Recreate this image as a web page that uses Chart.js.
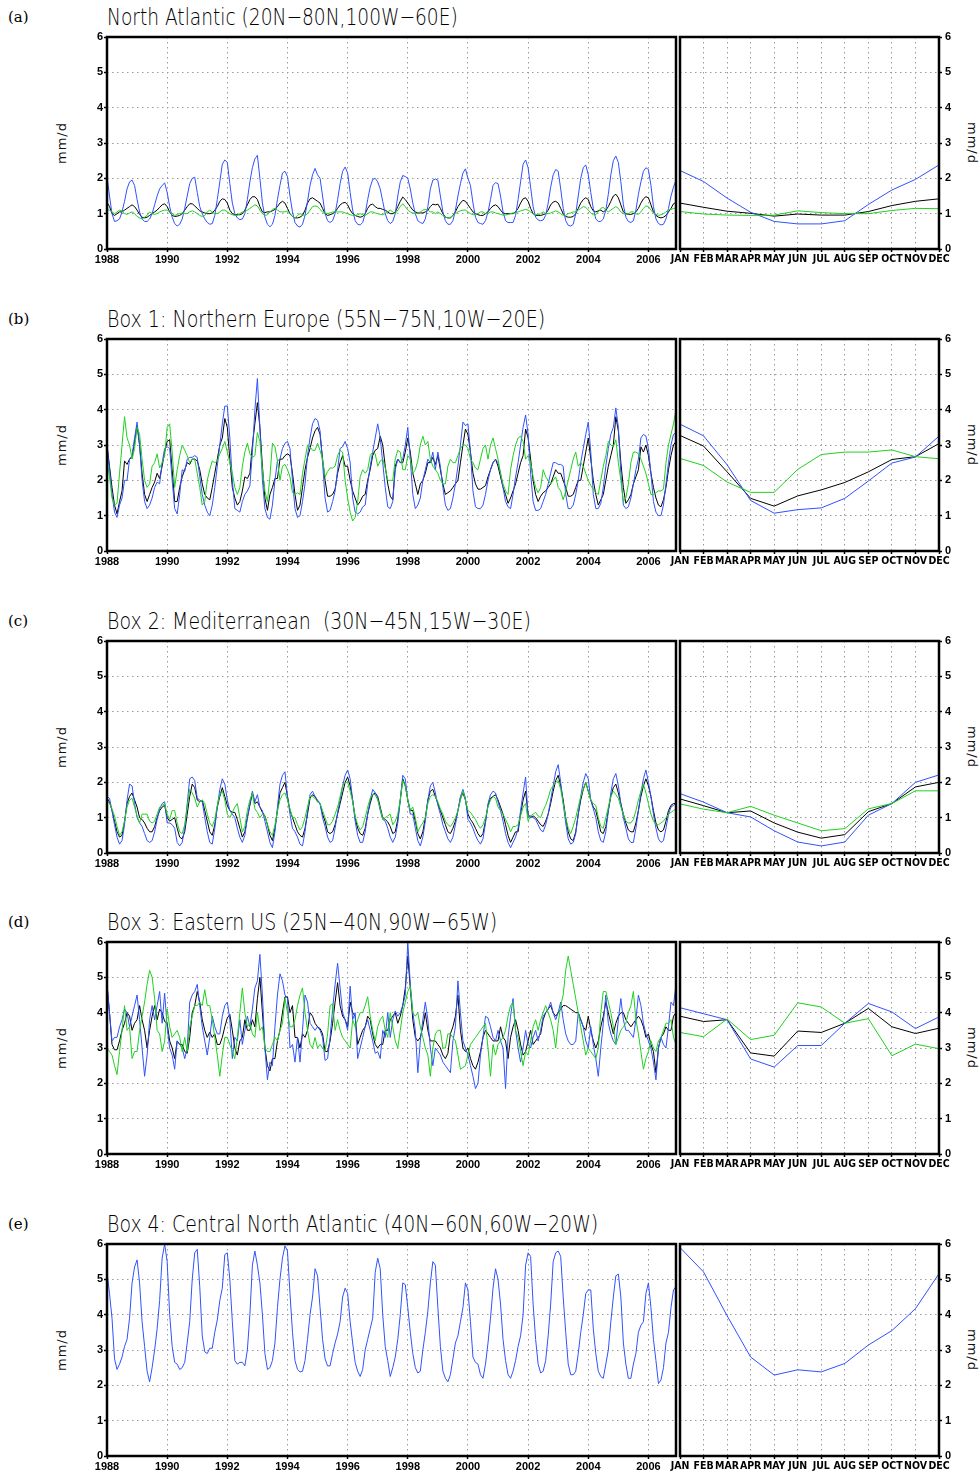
<!DOCTYPE html>
<html>
<head>
<meta charset="utf-8">
<title>Precipitation time series and climatology</title>
<script src="https://cdn.jsdelivr.net/npm/chart.js@4.4.1/dist/chart.umd.min.js"></script>
<style>
  html, body { margin: 0; padding: 0; background: #fff; }
  body { position: relative; width: 979px; height: 1475px; overflow: hidden; }
  canvas { position: absolute; }
  .title { position: absolute; left: 107px; font-family: 'DejaVu Sans', sans-serif; font-weight: 200;
           font-size: 23px; line-height: 26px; white-space: pre; transform-origin: 0 0; color: #000; }
  .tag { position: absolute; left: 8px; font-family: 'DejaVu Serif', serif; font-size: 15px; line-height: 18px; }
  .unit { position: absolute; font-family: 'DejaVu Sans', sans-serif; font-size: 13px; color: #111;
          line-height: 14px; white-space: nowrap; letter-spacing: 1px; }
</style>
</head>
<body>
<script>
// ---------- data (mm/d), monthly Jan 1988 .. Dec 2006 ----------
const START_YEAR = 1988;
const yearTicks = [1988, 1990, 1992, 1994, 1996, 1998, 2000, 2002, 2004, 2006];
const monthNames = ['JAN','FEB','MAR','APR','MAY','JUN','JUL','AUG','SEP','OCT','NOV','DEC'];
const yTicks = [0, 1, 2, 3, 4, 5, 6];

// (a) North Atlantic
const naBlack = [
  1.32,1.2,1.0,0.95,1.0,1.05,1.05,1.1,1.15,1.2,1.25,1.2,
  1.1,0.98,0.9,0.88,0.9,0.95,1.0,1.05,1.1,1.18,1.25,1.28,
  1.2,1.05,0.95,0.92,0.93,0.95,1.0,1.1,1.2,1.28,1.28,1.22,
  1.15,1.08,1.05,1.02,1.0,1.0,1.02,1.1,1.2,1.35,1.42,1.4,
  1.3,1.1,1.0,0.97,0.97,0.97,1.0,1.1,1.25,1.4,1.48,1.48,
  1.4,1.2,1.05,1.03,1.05,1.05,1.08,1.12,1.2,1.3,1.35,1.3,
  1.15,1.0,0.92,0.88,0.88,0.9,0.95,1.1,1.3,1.42,1.45,1.4,
  1.35,1.3,1.15,1.0,0.95,0.97,1.0,1.05,1.15,1.25,1.3,1.32,
  1.25,1.1,1.0,0.95,0.92,0.9,0.92,1.0,1.15,1.25,1.27,1.2,
  1.15,1.15,1.12,1.1,1.05,1.0,1.0,1.05,1.2,1.35,1.47,1.4,
  1.3,1.2,1.1,1.05,1.02,1.02,1.02,1.05,1.1,1.2,1.27,1.25,
  1.27,1.15,1.0,0.9,0.88,0.88,0.95,1.05,1.2,1.3,1.38,1.35,
  1.25,1.15,1.05,1.0,0.97,0.95,0.95,1.0,1.05,1.15,1.22,1.25,
  1.2,1.1,1.02,1.0,1.0,1.0,1.0,1.05,1.15,1.3,1.42,1.45,
  1.35,1.15,1.0,0.95,0.95,0.95,0.97,1.0,1.1,1.25,1.33,1.35,
  1.3,1.15,1.0,0.92,0.9,0.9,0.92,1.0,1.15,1.3,1.4,1.45,
  1.4,1.2,1.08,1.05,1.08,1.1,1.05,1.1,1.2,1.35,1.5,1.55,
  1.45,1.25,1.05,1.0,0.98,0.98,1.0,1.05,1.15,1.3,1.42,1.48,
  1.45,1.25,1.05,0.95,0.9,0.88,0.9,0.95,1.05,1.15,1.28,1.32
];
const naBlue = [
  2.05,1.5,1.0,0.78,0.8,0.85,1.05,1.35,1.7,1.9,1.95,1.8,
  1.4,1.05,0.85,0.78,0.78,0.85,1.0,1.25,1.5,1.7,1.8,1.87,
  1.6,1.2,0.9,0.72,0.65,0.7,0.85,1.15,1.5,1.85,2.0,2.03,
  1.6,1.2,1.0,0.85,0.75,0.7,0.72,0.95,1.4,1.9,2.4,2.52,
  2.45,1.85,1.3,1.0,0.88,0.83,0.85,1.0,1.4,1.9,2.3,2.55,
  2.65,2.0,1.3,0.9,0.7,0.63,0.7,0.95,1.4,1.8,2.15,2.2,
  2.05,1.5,1.05,0.75,0.65,0.62,0.7,0.95,1.35,1.8,2.1,2.28,
  2.1,2.0,1.5,1.0,0.8,0.75,0.8,1.0,1.4,1.85,2.2,2.32,
  2.15,1.6,1.1,0.8,0.7,0.68,0.75,1.0,1.4,1.75,1.97,2.0,
  1.9,1.7,1.35,1.0,0.8,0.72,0.78,1.0,1.5,1.9,2.08,2.05,
  2.0,1.7,1.3,1.0,0.8,0.75,0.72,0.85,1.2,1.7,1.95,1.98,
  1.95,1.5,1.05,0.8,0.7,0.7,0.8,1.1,1.5,1.85,2.15,2.27,
  2.0,1.8,1.3,0.9,0.75,0.72,0.7,0.8,1.05,1.4,1.8,1.88,
  1.85,1.5,1.05,0.8,0.75,0.75,0.75,0.95,1.4,1.9,2.4,2.52,
  2.3,1.75,1.2,0.9,0.82,0.8,0.82,0.95,1.3,1.75,2.1,2.25,
  2.2,1.7,1.15,0.8,0.67,0.65,0.7,1.0,1.5,2.0,2.3,2.38,
  2.1,1.6,1.15,0.85,0.78,0.78,0.85,1.1,1.55,2.1,2.5,2.63,
  2.45,1.9,1.25,0.9,0.78,0.75,0.8,1.1,1.55,1.9,2.2,2.3,
  2.25,1.8,1.2,0.85,0.72,0.68,0.7,0.85,1.15,1.5,1.75,1.95
];
const naGreen = [
  1.12,1.1,1.05,1.0,1.05,1.1,1.08,1.0,0.98,1.02,1.05,1.0,
  0.92,0.88,0.85,0.9,0.95,1.05,1.0,0.98,1.0,1.05,1.08,1.1,
  1.1,1.05,1.0,0.95,0.98,1.0,1.02,1.0,1.0,1.05,1.08,1.05,
  1.0,0.95,0.92,0.95,1.05,1.1,1.05,1.0,1.0,1.05,1.1,1.1,
  1.05,1.0,0.97,0.95,0.95,1.0,1.05,1.05,1.1,1.15,1.2,1.25,
  1.22,1.1,1.0,0.95,0.97,1.05,1.12,1.15,1.1,1.05,1.05,1.05,
  1.08,1.0,0.92,0.88,0.95,1.0,0.97,0.95,1.0,1.1,1.2,1.22,
  1.2,1.12,1.05,1.02,1.0,1.02,1.05,1.05,1.05,1.05,1.05,1.02,
  1.0,0.97,0.95,0.95,0.97,1.0,0.97,0.95,1.0,1.05,1.05,1.02,
  1.0,0.98,0.97,1.0,1.05,1.1,1.05,1.0,1.1,1.2,1.28,1.2,
  1.1,1.05,1.02,1.0,1.02,1.05,1.1,1.12,1.1,1.05,1.05,1.0,
  1.05,1.0,0.95,0.9,0.88,0.9,0.95,1.0,1.05,1.08,1.1,1.1,
  1.05,1.0,0.97,0.97,1.0,1.05,1.05,1.0,1.0,1.05,1.05,1.02,
  1.0,0.98,0.96,0.96,0.98,1.0,1.02,1.02,1.05,1.08,1.1,1.12,
  1.1,1.05,1.0,0.97,0.97,1.0,1.05,1.0,1.0,1.02,1.05,1.08,
  1.05,1.0,0.95,0.95,1.0,1.02,1.05,1.05,1.1,1.15,1.2,1.18,
  1.1,1.02,0.97,0.97,1.05,1.15,1.18,1.1,1.05,1.1,1.15,1.2,
  1.15,1.05,1.0,0.98,1.0,1.05,1.05,1.0,0.98,1.05,1.15,1.22,
  1.2,1.1,1.02,0.98,0.95,0.97,1.0,1.05,1.1,1.12,1.15,1.15
];

// (b) Box 1: Northern Europe
const neBlack = [
  3.0,2.4,1.8,1.3,1.05,1.4,1.7,2.55,2.45,2.6,2.65,3.1,
  3.55,3.0,2.2,1.6,1.4,1.6,1.8,1.95,2.2,2.05,2.4,2.8,
  3.1,3.15,2.3,1.4,1.4,1.8,2.1,2.3,2.5,2.45,2.6,2.6,
  2.55,2.3,1.9,1.6,1.5,1.45,1.8,2.2,2.6,3.0,3.2,3.75,
  3.5,2.6,1.8,1.5,1.3,1.4,1.7,2.1,2.05,2.2,3.0,3.6,
  4.2,3.5,2.4,1.5,1.15,1.6,1.8,2.05,2.05,2.6,2.6,2.7,
  2.75,2.7,2.2,1.6,1.15,1.3,1.8,2.3,2.65,2.9,3.2,3.4,
  3.5,3.3,2.6,2.0,1.55,1.55,1.6,1.75,2.2,2.5,2.7,2.4,
  2.4,2.0,1.7,1.5,1.3,1.4,1.55,1.6,2.0,2.3,2.7,2.85,
  2.9,3.25,3.0,2.4,1.9,1.55,1.45,2.4,2.6,2.5,2.5,2.8,
  3.2,2.8,2.2,1.9,1.6,1.9,2.0,2.2,2.5,2.5,2.65,2.45,
  2.7,2.3,1.9,1.6,1.65,1.7,1.8,1.9,2.0,2.5,3.0,3.45,
  3.3,2.8,2.2,1.9,1.75,1.75,1.8,1.85,2.1,2.3,2.5,2.6,
  2.4,2.1,1.8,1.6,1.35,1.5,1.7,1.9,2.2,2.5,2.7,3.45,
  3.2,2.6,2.0,1.6,1.4,1.55,1.65,1.7,1.8,1.9,2.1,2.3,
  2.2,2.2,2.0,1.8,1.55,1.55,1.6,1.8,2.0,2.0,2.4,2.8,
  3.2,2.6,2.0,1.6,1.3,1.45,1.6,2.0,2.4,2.7,3.0,3.8,
  3.4,2.5,1.8,1.35,1.45,1.6,1.9,2.1,2.3,2.95,2.8,3.0,
  2.7,2.2,1.8,1.5,1.3,1.25,1.45,1.8,2.3,2.7,3.0,3.1
];
const neBlue = [
  3.0,2.3,1.6,1.1,0.95,1.3,1.5,2.0,2.0,2.6,2.7,3.2,
  3.65,3.0,2.0,1.4,1.2,1.3,1.5,1.8,1.95,1.9,2.5,2.9,
  2.95,2.9,2.0,1.2,1.05,1.6,2.3,2.25,2.6,2.65,2.65,2.7,
  2.65,2.1,1.6,1.3,1.1,1.0,1.3,1.8,2.4,3.0,3.6,4.1,
  4.1,3.2,2.0,1.2,1.15,1.1,1.4,1.6,1.7,1.85,2.8,4.0,
  4.88,3.5,2.0,1.2,0.95,0.9,1.3,2.0,2.55,2.6,2.9,3.05,
  3.1,2.9,2.0,1.2,0.95,1.0,1.4,1.9,2.7,3.2,3.6,3.75,
  3.7,3.4,2.5,1.5,1.1,1.15,1.4,1.7,2.3,2.9,2.95,3.1,
  2.9,2.5,1.5,1.1,1.05,1.1,1.25,1.3,1.9,2.4,2.8,3.2,
  3.6,3.2,2.5,1.8,1.25,1.2,1.4,2.3,2.6,2.5,2.6,3.0,
  3.5,2.6,1.6,1.2,1.3,1.5,2.0,2.3,2.6,2.5,2.8,2.3,
  2.8,2.4,1.8,1.3,1.15,1.2,1.5,1.9,2.4,3.0,3.65,3.55,
  3.6,2.8,1.7,1.25,1.2,1.2,1.3,1.6,2.0,2.3,2.5,2.6,
  2.5,2.2,1.8,1.4,1.25,1.2,1.6,2.1,2.5,3.0,3.5,3.85,
  3.3,2.2,1.4,1.15,1.15,1.2,1.4,1.6,1.9,2.2,2.5,2.5,
  2.45,2.45,2.4,1.6,1.2,1.2,1.3,1.6,2.0,2.5,2.9,3.3,
  3.65,2.8,1.6,1.2,1.2,1.35,1.8,2.4,2.9,3.3,3.5,4.05,
  3.5,2.2,1.3,1.2,1.25,1.5,1.9,2.3,2.6,3.2,3.3,3.25,
  2.9,2.2,1.4,1.1,1.0,1.0,1.3,1.9,2.5,3.0,3.3,3.35
];
const neGreen = [
  2.6,2.1,1.5,1.3,1.35,2.2,3.0,3.8,3.2,3.0,2.6,2.9,
  3.5,3.3,2.6,2.0,1.8,1.9,2.4,2.5,2.75,2.35,2.5,2.7,
  3.5,3.6,2.8,1.8,2.3,2.7,3.0,2.85,2.7,2.5,2.6,2.6,
  2.2,1.8,1.3,1.4,2.0,2.3,2.55,2.5,2.55,2.75,2.9,3.1,
  2.8,2.5,2.2,1.8,1.6,1.8,2.4,2.8,3.05,2.75,2.65,2.7,
  3.35,3.1,2.3,1.7,1.4,2.1,3.05,2.95,2.55,2.0,2.4,2.45,
  2.3,2.1,1.65,1.6,1.65,1.6,2.2,2.6,3.0,2.95,2.85,2.85,
  3.05,2.85,2.6,2.1,2.25,2.35,2.35,2.4,2.7,2.85,2.8,2.0,
  1.5,1.1,0.85,0.95,1.4,2.1,2.3,2.2,2.3,2.7,2.8,2.75,
  2.4,2.55,2.6,2.35,2.0,2.0,2.0,2.6,2.85,2.8,2.3,2.3,
  2.7,2.6,2.2,2.3,2.55,3.0,3.25,3.0,3.1,2.6,2.4,2.3,
  2.2,2.0,1.9,1.9,2.4,2.6,2.5,2.5,2.7,2.9,3.0,3.0,
  2.9,2.6,2.5,2.35,2.3,2.6,2.9,3.0,2.6,3.0,3.2,2.9,
  2.6,2.2,1.9,1.7,1.6,2.3,2.7,3.0,3.2,3.25,3.1,2.6,
  2.7,2.5,2.1,1.8,1.65,1.8,2.3,2.1,2.0,1.9,2.0,2.1,
  1.8,1.7,1.45,1.7,2.0,2.3,2.6,2.8,2.4,2.5,2.4,2.2,
  2.0,1.85,1.75,1.65,1.6,2.0,2.4,2.7,3.1,3.0,2.95,3.15,
  2.5,2.0,1.4,1.5,1.9,2.5,2.8,2.8,2.75,2.6,2.4,2.2,
  1.9,1.6,1.6,1.65,1.7,1.7,1.75,2.5,3.0,3.3,3.6,4.0
];

// (c) Box 2: Mediterranean
const medBlack = [
  1.55,1.45,1.2,0.9,0.6,0.45,0.5,0.9,1.4,1.6,1.7,1.5,
  1.3,1.0,0.95,0.85,0.7,0.6,0.6,0.75,1.0,1.2,1.3,1.35,
  1.0,0.9,0.95,1.0,0.7,0.45,0.4,0.6,1.1,1.6,1.95,1.85,
  1.5,1.45,1.5,1.2,0.9,0.6,0.5,0.8,1.3,1.6,1.85,1.6,
  1.35,1.2,1.15,1.15,0.95,0.7,0.45,0.6,1.0,1.35,1.7,1.4,
  1.45,1.3,1.15,1.05,0.8,0.5,0.35,0.7,1.2,1.7,1.85,2.0,
  1.6,1.2,1.0,0.8,0.6,0.5,0.45,0.7,1.1,1.55,1.65,1.6,
  1.45,1.4,1.1,0.9,0.6,0.55,0.6,0.8,1.1,1.4,1.7,2.0,
  2.15,1.9,1.5,1.0,0.7,0.55,0.5,0.7,1.1,1.4,1.65,1.7,
  1.6,1.3,1.0,0.95,0.88,0.75,0.55,0.6,0.95,1.5,2.1,1.9,
  1.5,1.2,1.2,0.9,0.55,0.4,0.6,1.0,1.5,1.75,1.8,1.6,
  1.4,1.2,1.0,0.8,0.6,0.55,0.7,0.9,1.2,1.55,1.7,1.5,
  1.1,0.95,0.85,0.7,0.55,0.45,0.55,0.9,1.35,1.55,1.6,1.65,
  1.5,1.3,1.1,0.8,0.5,0.3,0.45,0.6,0.6,1.1,1.5,1.75,
  1.1,1.0,1.05,1.0,0.9,0.8,0.75,0.9,1.1,1.4,1.75,2.05,
  2.2,1.9,1.5,1.0,0.6,0.4,0.35,0.6,1.1,1.5,1.8,2.0,
  1.75,1.5,1.3,1.2,0.9,0.6,0.55,0.75,1.2,1.6,1.85,1.95,
  1.7,1.4,1.1,0.85,0.65,0.6,0.6,0.85,1.2,1.6,1.9,2.1,
  1.9,1.6,1.2,0.85,0.65,0.6,0.65,0.9,1.2,1.35,1.4,1.4
];
const medBlue = [
  1.6,1.55,1.2,0.8,0.45,0.25,0.35,0.8,1.5,1.95,1.9,1.4,
  1.0,0.85,0.75,0.55,0.35,0.3,0.35,0.6,0.95,1.25,1.4,1.45,
  0.85,0.85,0.8,0.7,0.3,0.2,0.3,0.7,1.4,2.1,2.15,2.05,
  1.55,1.5,1.45,1.0,0.6,0.3,0.25,0.7,1.3,1.8,2.1,1.95,
  1.5,1.2,1.1,1.0,0.7,0.45,0.3,0.5,1.0,1.4,1.75,1.45,
  1.65,1.3,1.2,0.9,0.6,0.3,0.15,0.6,1.3,1.95,2.2,2.3,
  1.6,1.1,0.7,0.6,0.45,0.25,0.2,0.6,1.2,1.65,1.75,1.6,
  1.5,1.4,1.0,0.75,0.45,0.3,0.35,0.7,1.15,1.5,1.9,2.2,
  2.35,2.1,1.5,0.9,0.5,0.3,0.3,0.6,1.1,1.5,1.8,1.7,
  1.55,1.2,0.95,0.9,0.7,0.45,0.3,0.45,0.85,1.5,2.2,2.1,
  1.5,1.1,1.1,0.7,0.35,0.2,0.45,0.9,1.5,1.9,2.0,1.7,
  1.35,1.1,0.8,0.6,0.4,0.3,0.45,0.8,1.2,1.6,1.8,1.55,
  0.95,0.85,0.7,0.5,0.35,0.25,0.4,0.85,1.4,1.65,1.75,1.7,
  1.45,1.2,0.9,0.55,0.3,0.15,0.3,0.45,0.7,1.2,1.7,2.15,
  1.0,1.05,1.0,0.95,0.8,0.65,0.6,0.8,1.1,1.5,1.9,2.3,
  2.5,2.0,1.4,0.85,0.4,0.25,0.3,0.55,1.1,1.6,2.0,2.25,
  2.1,1.5,1.25,1.0,0.6,0.35,0.3,0.6,1.2,1.7,2.1,2.25,
  1.9,1.4,1.0,0.7,0.4,0.3,0.3,0.7,1.2,1.7,2.1,2.35,
  2.0,1.6,1.1,0.7,0.4,0.3,0.35,0.7,1.1,1.3,1.35,1.4
];
const medGreen = [
  1.5,1.4,1.25,1.05,0.75,0.5,0.6,0.9,1.3,1.5,1.55,1.3,
  1.05,0.85,1.1,1.1,1.1,0.9,0.85,0.9,1.1,1.3,1.35,1.4,
  1.1,0.95,1.2,1.2,0.85,0.6,0.55,0.8,1.3,1.8,1.7,1.55,
  1.3,1.45,1.5,1.4,1.1,0.85,0.75,0.95,1.35,1.65,1.75,1.5,
  1.1,1.0,1.15,1.3,1.4,1.0,0.6,0.75,1.2,1.5,1.7,1.25,
  1.15,1.0,1.1,1.05,0.8,0.6,0.5,0.8,1.2,1.5,1.65,1.7,
  1.5,1.25,1.0,1.0,0.8,0.65,0.75,1.0,1.3,1.6,1.6,1.55,
  1.45,1.4,1.2,1.0,0.8,0.8,0.9,1.1,1.3,1.6,1.9,2.0,
  2.0,1.75,1.45,1.05,0.8,0.65,0.75,1.0,1.3,1.55,1.65,1.65,
  1.5,1.25,0.95,1.0,1.05,1.1,0.8,0.9,1.1,1.5,2.05,1.9,
  1.5,1.2,1.3,1.0,0.6,0.75,0.85,1.0,1.4,1.6,1.65,1.6,
  1.45,1.25,1.1,0.9,0.8,0.75,0.85,1.0,1.2,1.5,1.75,1.5,
  1.2,1.15,1.05,0.95,0.8,0.7,0.8,1.0,1.3,1.5,1.6,1.55,
  1.3,1.2,1.1,0.95,0.8,0.6,0.75,0.75,0.8,1.05,1.3,1.4,
  0.9,1.05,1.1,1.15,1.05,1.0,1.2,1.35,1.55,1.8,1.9,2.0,
  2.05,1.8,1.4,1.0,0.7,0.55,0.75,1.0,1.3,1.6,1.8,2.0,
  1.75,1.5,1.4,1.35,1.0,0.75,0.7,1.0,1.3,1.6,1.75,1.65,
  1.55,1.3,1.1,0.9,0.85,0.85,0.95,1.2,1.5,1.75,1.95,1.7,
  1.4,1.1,0.9,0.8,0.8,0.85,0.9,1.0,1.1,1.15,1.2,1.25
];

// (d) Box 3: Eastern US
const usBlack = [
  4.8,4.0,3.1,2.95,2.95,3.2,3.5,3.7,4.0,3.9,3.5,3.7,
  3.8,4.2,3.8,3.5,3.0,3.5,3.9,4.2,3.8,4.1,4.0,3.75,
  3.7,3.2,3.0,2.7,3.2,3.1,3.1,2.9,2.85,3.3,4.0,4.2,
  4.6,4.3,3.8,3.5,3.3,3.45,3.3,3.4,3.1,3.1,3.3,3.6,
  3.85,3.95,3.5,3.0,2.8,3.2,3.3,3.8,3.5,3.5,3.8,3.6,
  4.4,5.0,4.0,3.0,2.5,2.35,2.7,2.7,3.2,3.5,4.0,4.45,
  4.45,4.0,4.2,3.3,3.3,3.0,3.4,3.3,3.5,4.0,3.9,3.7,
  3.6,3.55,3.4,2.9,2.9,3.2,3.7,4.3,4.85,4.2,3.9,3.8,
  3.6,4.3,4.0,3.9,3.1,3.3,3.5,3.6,3.9,3.8,3.4,3.1,
  3.0,3.1,3.1,3.5,3.5,3.8,3.9,4.0,3.7,3.9,4.2,4.7,
  5.6,4.7,3.8,3.3,3.2,3.3,3.6,4.0,3.5,3.2,3.2,3.2,
  3.1,3.0,2.8,2.7,2.85,3.4,3.6,3.9,4.5,3.5,3.0,2.9,
  3.0,2.7,2.5,2.4,2.6,2.9,3.3,3.5,3.4,3.3,3.2,3.2,
  3.2,3.6,3.3,3.2,2.7,3.3,3.6,3.8,3.5,3.1,2.8,2.9,
  3.2,3.5,3.1,3.2,3.3,3.4,3.8,4.0,4.1,4.2,4.0,3.9,
  4.0,4.1,4.2,4.2,4.15,4.1,4.05,4.0,4.0,3.8,3.6,3.5,
  3.9,3.5,3.2,3.0,3.2,3.6,3.9,4.3,4.0,3.7,3.4,3.7,
  3.9,4.0,4.0,3.8,3.7,3.6,3.7,3.8,3.9,3.8,3.6,3.3,
  3.4,3.1,2.9,2.3,3.0,3.3,3.4,3.6,3.5,3.5,3.9,4.0
];
const usBlue = [
  4.8,4.0,3.2,3.3,3.3,3.6,3.8,4.1,4.0,3.6,3.9,4.2,
  4.5,3.8,3.0,2.2,2.8,3.8,4.2,3.8,4.2,4.6,3.7,4.55,
  3.6,3.0,2.8,2.4,3.2,3.1,3.0,2.7,3.0,4.3,4.5,4.6,
  4.8,4.2,3.6,3.2,2.8,3.3,3.9,3.6,3.4,3.4,3.9,4.2,
  4.3,3.8,2.7,3.3,3.2,3.8,3.1,3.5,3.9,3.6,4.1,4.7,
  4.9,5.65,4.5,3.0,2.1,2.6,2.5,3.6,4.5,5.1,4.9,4.5,
  4.4,3.0,3.1,2.6,3.3,2.6,3.5,4.5,4.3,3.7,3.6,3.5,
  3.6,3.5,3.3,2.65,2.7,3.3,4.1,4.8,5.4,4.7,4.0,3.8,
  3.5,4.75,3.8,4.0,2.7,3.0,3.3,3.6,3.8,3.5,3.2,2.85,
  2.9,2.7,3.5,3.3,4.0,3.3,3.8,4.05,3.9,4.0,4.2,4.5,
  6.0,4.8,4.0,3.5,2.3,3.2,3.8,4.3,3.8,3.0,2.5,3.0,
  2.9,2.8,2.6,2.5,2.4,2.3,3.2,3.6,4.9,4.0,3.2,3.0,
  2.8,2.5,2.2,1.85,2.0,2.8,3.3,3.9,3.85,3.6,3.3,3.2,
  3.5,3.2,3.0,1.85,3.3,3.9,4.4,3.5,3.0,2.6,3.0,3.5,
  3.1,3.0,3.3,3.5,3.2,3.5,3.9,4.0,4.1,4.3,4.0,3.8,
  4.0,4.3,3.8,3.4,3.2,3.1,3.1,3.2,4.0,3.8,3.6,3.2,
  3.0,3.6,3.1,2.7,2.2,3.0,3.7,4.5,3.7,3.4,3.2,3.1,
  3.8,4.4,3.8,3.5,3.5,3.4,3.3,3.8,4.5,4.2,3.7,3.4,
  3.2,3.0,2.6,2.1,3.0,3.3,3.1,3.0,3.6,4.3,4.2,4.8
];
const usGreen = [
  3.0,2.9,2.8,2.5,2.25,2.9,3.5,4.2,3.5,3.6,2.7,2.9,
  2.9,3.5,3.9,4.3,4.8,5.2,5.0,4.4,3.5,3.4,2.9,3.2,
  4.1,3.6,3.3,3.4,3.5,3.3,2.9,3.3,2.9,3.6,3.9,4.2,
  4.2,4.3,4.2,4.65,4.2,4.2,3.8,3.3,2.8,2.2,2.8,3.3,
  3.3,3.1,2.9,2.7,3.3,4.0,4.7,4.0,3.6,3.7,3.4,3.3,
  4.0,3.5,3.6,3.0,2.9,2.9,3.1,3.3,3.2,3.5,3.7,4.4,
  4.0,3.6,3.6,3.8,4.2,4.5,4.7,4.0,3.5,3.1,3.0,3.3,
  3.0,3.1,3.0,2.9,3.4,4.2,4.25,3.5,3.8,3.5,3.3,3.2,
  3.1,3.0,3.8,3.6,3.8,4.0,4.0,4.2,4.45,3.9,3.5,3.2,
  3.6,3.8,3.9,3.5,3.3,4.0,3.6,3.2,3.0,3.5,4.0,4.3,
  4.6,4.75,4.0,3.9,4.0,3.6,3.3,3.0,2.8,2.2,3.0,3.4,
  3.5,3.5,3.0,3.0,3.4,3.4,3.3,3.2,2.8,2.4,2.45,2.5,
  2.8,3.1,3.2,3.3,3.4,3.5,3.6,3.7,3.0,2.2,3.1,2.8,
  3.1,3.2,3.3,3.5,3.9,4.2,4.3,3.5,3.3,2.9,2.5,2.9,
  2.8,3.2,3.6,3.8,3.5,3.8,4.0,4.2,4.0,3.8,3.5,3.0,
  3.7,4.2,4.5,5.2,5.6,5.2,4.8,4.4,4.0,3.6,3.2,2.8,
  3.0,2.9,2.8,2.7,3.0,4.0,4.6,4.6,4.3,4.0,3.6,3.1,
  3.3,3.5,3.6,3.7,4.0,4.2,4.6,3.8,3.4,2.9,2.4,2.7,
  2.9,3.2,3.0,2.9,3.2,3.3,3.5,3.7,3.7,3.8,3.3,3.1
];

// (e) Box 4: Central North Atlantic
const cnaBlue = [
  5.2,4.6,3.9,2.75,2.45,2.6,2.8,3.1,3.3,3.9,4.9,5.35,
  5.55,4.9,3.8,3.1,2.4,2.1,2.5,3.0,3.6,4.4,5.6,6.0,
  5.5,4.0,3.1,2.65,2.6,2.45,2.5,2.65,3.2,3.8,5.0,5.75,
  5.85,4.8,3.4,2.95,2.9,3.05,3.05,3.5,3.85,4.4,4.75,5.7,
  5.75,5.0,3.8,2.7,2.6,2.65,2.65,2.55,3.0,4.0,5.4,5.8,
  5.4,4.9,4.0,2.9,2.45,2.5,2.7,3.2,4.2,5.0,5.6,5.95,
  5.8,4.6,3.5,2.7,2.45,2.38,2.4,2.7,3.3,4.0,4.5,5.3,
  5.1,4.2,3.3,2.75,2.55,2.55,2.9,3.2,3.45,3.8,4.5,4.75,
  4.6,3.8,3.2,2.65,2.4,2.25,2.45,3.0,3.3,3.6,3.9,5.2,
  5.6,5.3,4.0,3.1,2.7,2.25,2.5,2.8,3.3,4.0,4.9,4.85,
  4.2,3.5,2.9,2.5,2.35,2.4,3.0,3.5,4.1,4.9,5.5,5.4,
  4.2,3.1,2.4,2.2,2.1,2.3,2.75,3.2,3.4,3.8,4.2,4.9,
  4.7,3.8,2.8,2.65,2.6,2.3,2.2,2.6,3.2,3.9,4.75,5.3,
  5.0,4.3,3.3,2.7,2.3,2.2,2.4,2.7,3.1,3.4,4.0,5.4,
  5.75,5.65,4.3,3.3,2.6,2.35,2.4,2.7,3.4,4.3,5.5,5.75,
  5.8,5.65,4.5,3.5,2.6,2.3,2.3,2.4,2.9,3.5,4.0,4.6,
  4.7,4.7,3.6,2.9,2.4,2.25,2.2,2.6,3.0,3.8,4.5,5.1,
  5.15,4.5,3.2,2.6,2.2,2.2,2.6,2.9,3.5,3.7,3.8,4.6,
  4.9,4.2,3.3,2.7,2.05,2.15,2.5,3.2,3.5,4.2,4.7,4.8
];

// climatologies (JAN..DEC)
const naClimBlack  = [1.3, 1.18, 1.07, 1.01, 0.93, 0.99, 0.96, 0.96, 1.06, 1.23, 1.35, 1.42];
const naClimBlue   = [2.22, 1.91, 1.44, 1.04, 0.78, 0.71, 0.71, 0.8, 1.26, 1.67, 1.97, 2.38];
const naClimGreen  = [1.06, 0.99, 0.96, 0.95, 0.96, 1.08, 1.03, 1.0, 1.0, 1.09, 1.15, 1.14];
const neClimBlack  = [3.27, 2.97, 2.24, 1.49, 1.27, 1.56, 1.73, 1.94, 2.24, 2.59, 2.67, 3.04];
const neClimBlue   = [3.59, 3.26, 2.44, 1.43, 1.07, 1.17, 1.22, 1.49, 1.98, 2.49, 2.66, 3.25];
const neClimGreen  = [2.62, 2.42, 1.95, 1.66, 1.66, 2.31, 2.73, 2.8, 2.8, 2.86, 2.67, 2.61];
const medClimBlack = [1.53, 1.34, 1.14, 1.19, 0.85, 0.59, 0.42, 0.52, 1.17, 1.4, 1.87, 2.0];
const medClimBlue  = [1.68, 1.44, 1.14, 1.02, 0.63, 0.31, 0.2, 0.31, 1.07, 1.4, 2.0, 2.21];
const medClimGreen = [1.39, 1.24, 1.14, 1.32, 1.07, 0.85, 0.63, 0.69, 1.25, 1.4, 1.76, 1.76];
const usClimBlack  = [3.9, 3.75, 3.8, 2.86, 2.77, 3.48, 3.44, 3.7, 4.12, 3.6, 3.41, 3.56];
const usClimBlue   = [4.14, 3.97, 3.8, 2.69, 2.46, 3.07, 3.07, 3.7, 4.26, 4.02, 3.55, 3.88];
const usClimGreen  = [3.44, 3.32, 3.82, 3.24, 3.36, 4.28, 4.16, 3.7, 3.83, 2.78, 3.11, 2.98];
const cnaClimBlue  = [5.9, 5.21, 3.97, 2.8, 2.29, 2.44, 2.38, 2.62, 3.14, 3.55, 4.17, 5.16];

// ---------- layout / style ----------
const BLACK = '#000000', BLUE = '#2f52ff', GREEN = '#1fd11f';
const rowTops = [37, 339, 641, 942, 1244];
const PLOT_H = 212;

const panels = [
  { tag: '(a)', title: 'North Atlantic (20N\u221280N,100W\u221260E)', width: 351,
    series: [[naBlack, BLACK], [naBlue, BLUE], [naGreen, GREEN]],
    clim:   [[naClimBlack, BLACK], [naClimBlue, BLUE], [naClimGreen, GREEN]] },
  { tag: '(b)', title: 'Box 1: Northern Europe (55N\u221275N,10W\u221220E)', width: 438,
    series: [[neBlack, BLACK], [neBlue, BLUE], [neGreen, GREEN]],
    clim:   [[neClimBlack, BLACK], [neClimBlue, BLUE], [neClimGreen, GREEN]] },
  { tag: '(c)', title: 'Box 2: Mediterranean  (30N\u221245N,15W\u221230E)', width: 424,
    series: [[medBlack, BLACK], [medBlue, BLUE], [medGreen, GREEN]],
    clim:   [[medClimBlack, BLACK], [medClimBlue, BLUE], [medClimGreen, GREEN]] },
  { tag: '(d)', title: 'Box 3: Eastern US (25N\u221240N,90W\u221265W)', width: 390,
    series: [[usBlack, BLACK], [usBlue, BLUE], [usGreen, GREEN]],
    clim:   [[usClimBlack, BLACK], [usClimBlue, BLUE], [usClimGreen, GREEN]] },
  { tag: '(e)', title: 'Box 4: Central North Atlantic (40N\u221260N,60W\u221220W)', width: 491,
    series: [[cnaBlue, BLUE]],
    clim:   [[cnaClimBlue, BLUE]] }
];

// pick the first installed font from a list (compare against two fallbacks)
function pickFont(list) {
  const ctx = document.createElement('canvas').getContext('2d');
  for (const f of list) {
    ctx.font = "bold 11px '" + f + "', monospace";
    const a = ctx.measureText('JANFEBMAR1988').width;
    ctx.font = "bold 11px '" + f + "', serif";
    const b = ctx.measureText('JANFEBMAR1988').width;
    if (a === b) return f;
  }
  return null;
}
const narrow = pickFont(['Liberation Sans Narrow', 'DejaVu Sans Condensed']);

const tickFont = { family: "'Liberation Sans', Arial, sans-serif", size: 11, weight: 'bold' };
const monthFont = narrow
  ? { family: "'" + narrow + "', sans-serif", size: narrow === 'Liberation Sans Narrow' ? 11.5 : 10.5, weight: 'bold' }
  : { family: "'Liberation Sans', Arial, sans-serif", size: 9.5, weight: 'bold' };
const gridOpts = { color: '#9a9a9a', lineWidth: 1, tickColor: '#000', tickLength: 3, tickWidth: 1.5, tickBorderDash: [] };
const borderOpts = { display: false, dash: [1.5, 3.5] };

// thick frame round the plot area
const frame = {
  id: 'frame',
  afterDraw(chart) {
    const { ctx, chartArea: a } = chart;
    ctx.save();
    ctx.strokeStyle = '#000';
    ctx.lineWidth = 2.5;
    ctx.strokeRect(a.left, a.top, a.right - a.left, a.bottom - a.top);
    ctx.restore();
  }
};

function addDiv(cls, text, left, top) {
  const d = document.createElement('div');
  d.className = cls;
  d.textContent = text;
  d.style.left = left + 'px';
  d.style.top = top + 'px';
  document.body.appendChild(d);
  return d;
}

function makeCanvas(left, top, w, h) {
  const c = document.createElement('canvas');
  c.width = w; c.height = h;
  c.style.left = left + 'px'; c.style.top = top + 'px';
  c.style.width = w + 'px'; c.style.height = h + 'px';
  document.body.appendChild(c);
  return c;
}

function yScale(pos, width) {
  return {
    position: pos, min: 0, max: 6,
    afterBuildTicks: s => { s.ticks = yTicks.map(v => ({ value: v })); },
    afterFit: s => { s.width = width; s.paddingTop = 0; s.paddingBottom = 0; },
    ticks: { padding: pos === 'left' ? 1 : 3, color: '#000', font: tickFont },
    grid: gridOpts, border: borderOpts
  };
}

function baseOptions(padding) {
  return {
    responsive: false, animation: false, devicePixelRatio: 1,
    layout: { padding },
    plugins: { legend: { display: false }, tooltip: { enabled: false } },
    elements: { point: { radius: 0 }, line: { tension: 0 } }
  };
}

function datasets(series, toData) {
  return series.map(([vals, color], k) => ({
    data: toData(vals),
    borderColor: color,
    borderWidth: 1,
    fill: false,
    order: series.length - 1 - k
  }));
}

panels.forEach((p, r) => {
  const top = rowTops[r];

  addDiv('tag', p.tag, 8, top - 29);
  const t = addDiv('title', p.title, 107, top - 33);
  t.style.transform = 'scaleX(' + (p.width / t.offsetWidth) + ')';

  const uL = addDiv('unit', 'mm/d', 62, top + 106);
  uL.style.transform = 'translate(-50%,-50%) rotate(-90deg)';
  const uR = addDiv('unit', 'mm/d', 972, top + 106);
  uR.style.transform = 'translate(-50%,-50%) rotate(90deg)';

  // time series panel
  const nMonths = p.series[0][0].length;
  const opts = baseOptions({ top: 10, right: 3, left: 0, bottom: 0 });
  opts.scales = {
    x: {
      type: 'linear', min: START_YEAR, max: START_YEAR + (nMonths - 1) / 12,
      afterBuildTicks: s => { s.ticks = yearTicks.map(v => ({ value: v })); },
      afterFit: s => { s.height = 18; s.paddingLeft = 0; s.paddingRight = 0; },
      ticks: { autoSkip: false, maxRotation: 0, minRotation: 0, padding: 1, color: '#000',
               font: tickFont, callback: v => String(v) },
      grid: gridOpts, border: borderOpts
    },
    y: yScale('left', 107)
  };
  new Chart(makeCanvas(0, top - 10, 679, PLOT_H + 28), {
    type: 'line',
    data: { datasets: datasets(p.series, vals => vals.map((v, i) => ({ x: START_YEAR + i / 12, y: v }))) },
    options: opts,
    plugins: [frame]
  });

  // monthly climatology panel (canvas starts left of the plot so JAN is not cut)
  const copts = baseOptions({ top: 10, right: 0, left: 40, bottom: 0 });
  copts.scales = {
    x: {
      type: 'category', offset: false,
      afterFit: s => { s.height = 18; s.paddingLeft = 0; s.paddingRight = 0; },
      ticks: { autoSkip: false, maxRotation: 0, minRotation: 0, padding: 1, color: '#000', font: monthFont },
      grid: Object.assign({}, gridOpts, { offset: false }), border: borderOpts
    },
    y: yScale('right', 40)
  };
  new Chart(makeCanvas(640, top - 10, 339, PLOT_H + 28), {
    type: 'line',
    data: { labels: monthNames, datasets: datasets(p.clim, vals => vals) },
    options: copts,
    plugins: [frame]
  });
});
</script>
</body>
</html>
